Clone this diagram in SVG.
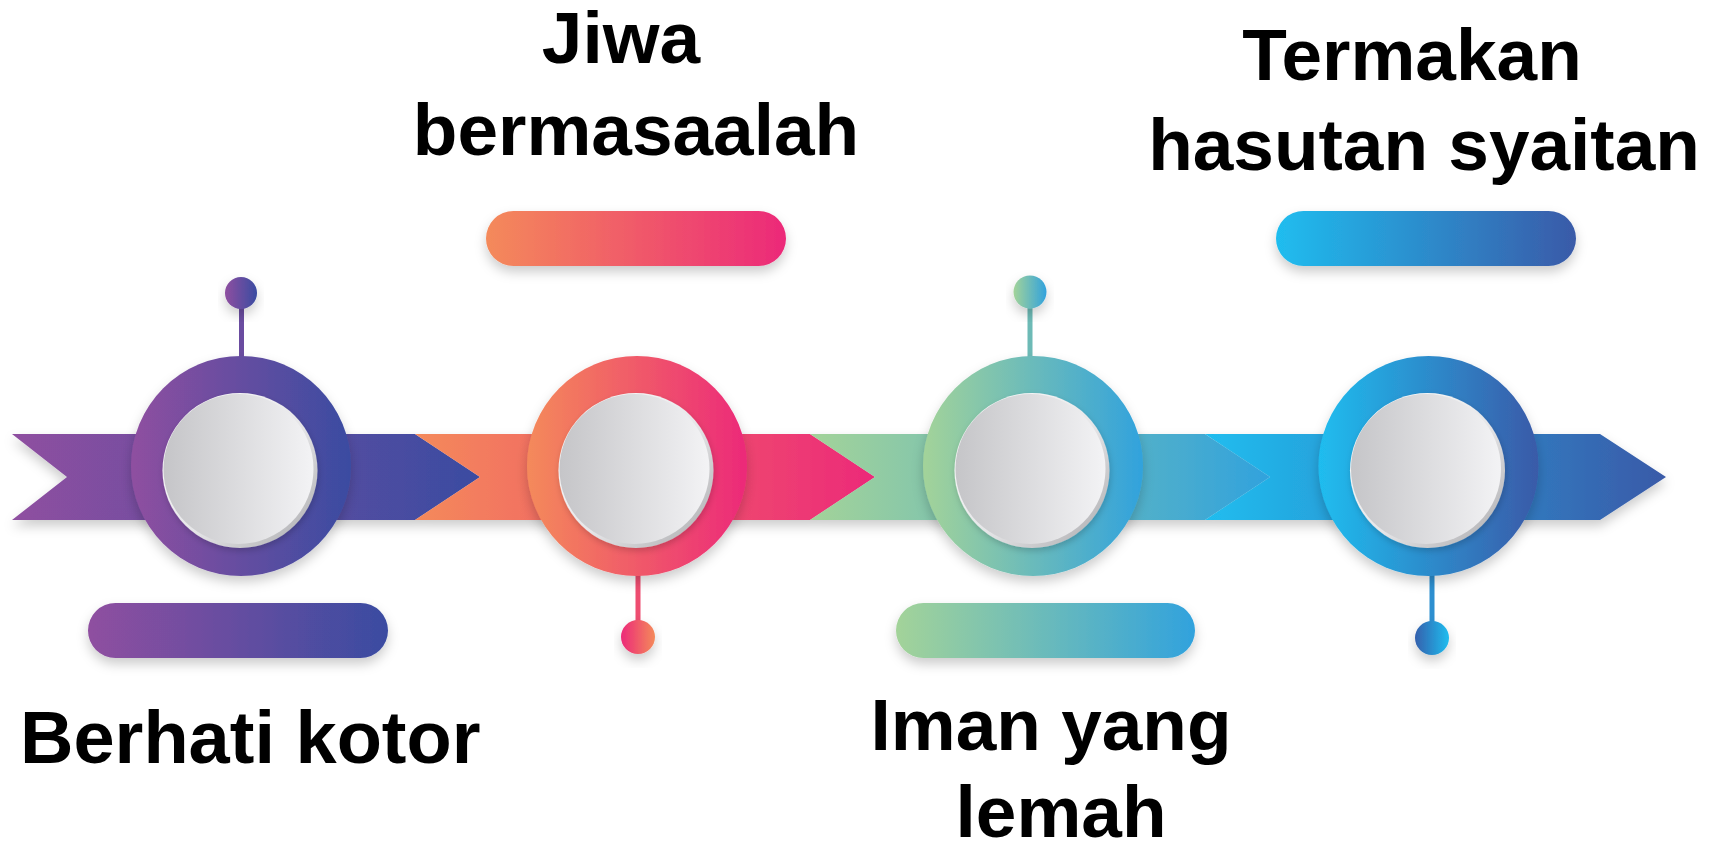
<svg xmlns="http://www.w3.org/2000/svg" width="1725" height="843" viewBox="0 0 1725 843">
  <style>
    .lbl { font-family: "Liberation Sans", Arial, sans-serif; font-weight: bold; font-size: 73px; fill: #000; }
    .sh { filter: url(#sh); }
  </style>
  <defs>
    <filter id="sh" x="-20%" y="-30%" width="140%" height="170%">
      <feDropShadow dx="0" dy="6" stdDeviation="6" flood-color="#000" flood-opacity="0.2"/>
    </filter>
    <filter id="shs" x="-20%" y="-20%" width="140%" height="140%">
      <feDropShadow dx="1" dy="3" stdDeviation="3" flood-color="#000" flood-opacity="0.18"/>
    </filter>
    <linearGradient id="g1"><stop offset="0" stop-color="#8f4fa0"/><stop offset="1" stop-color="#3a4ca1"/></linearGradient>
    <linearGradient id="g2"><stop offset="0" stop-color="#f48a5a"/><stop offset="1" stop-color="#ec2979"/></linearGradient>
    <linearGradient id="g2r"><stop offset="0" stop-color="#ec2979"/><stop offset="1" stop-color="#f48a5a"/></linearGradient>
    <linearGradient id="g3"><stop offset="0" stop-color="#a3d399"/><stop offset="1" stop-color="#31a2dd"/></linearGradient>
    <linearGradient id="g4"><stop offset="0" stop-color="#1fbdef"/><stop offset="1" stop-color="#3a5aa8"/></linearGradient>
    <linearGradient id="g4r"><stop offset="0" stop-color="#3460ad"/><stop offset="1" stop-color="#1fbdef"/></linearGradient>
    <linearGradient id="rim" x1="0" y1="0" x2="1" y2="1"><stop offset="0" stop-color="#ffffff"/><stop offset="0.55" stop-color="#e6e6e8"/><stop offset="1" stop-color="#a8a8ab"/></linearGradient>
    <linearGradient id="face"><stop offset="0" stop-color="#c5c5c8"/><stop offset="1" stop-color="#f3f3f5"/></linearGradient>
  </defs>
  <rect width="1725" height="843" fill="#ffffff"/>

  <g id="connectors" class="sh">
    <polygon points="12,434 415,434 480,477 415,520 12,520 67,477" fill="url(#g1)"/>
    <polygon points="415,434 810,434 875,477 810,520 415,520 480,477" fill="url(#g2)"/>
    <polygon points="810,434 1205,434 1270,477 1205,520 810,520 875,477" fill="url(#g3)"/>
    <polygon points="1205,434 1600,434 1666,477 1600,520 1205,520 1270,477" fill="url(#g4)"/>
  </g>

  <g id="node-1">
    <rect x="239" y="305" width="5" height="54" fill="#6a4ca0"/>
    <circle cx="241" cy="293" r="16" fill="url(#g1)" class="sh"/>
    <circle cx="241" cy="466" r="110" fill="url(#g1)" class="sh"/>
    <circle cx="240" cy="470.5" r="77.5" fill="url(#rim)" filter="url(#shs)"/>
    <circle cx="238.5" cy="469" r="75" fill="url(#face)"/>
    <rect x="88" y="603" width="300" height="55" rx="27.5" fill="url(#g1)" class="sh"/>
    <text class="lbl" x="20" y="763" style="font-size:74px">Berhati kotor</text>
  </g>

  <g id="node-2">
    <rect x="635.5" y="572" width="5" height="52" fill="#ee4d70"/>
    <circle cx="638" cy="637" r="17" fill="url(#g2r)" class="sh"/>
    <circle cx="637" cy="466" r="110" fill="url(#g2)" class="sh"/>
    <circle cx="636" cy="470.5" r="77.5" fill="url(#rim)" filter="url(#shs)"/>
    <circle cx="634.5" cy="469" r="75" fill="url(#face)"/>
    <rect x="486" y="211" width="300" height="55" rx="27.5" fill="url(#g2)" class="sh"/>
    <text class="lbl" x="621" y="63" text-anchor="middle">Jiwa</text>
    <text class="lbl" x="636" y="155" text-anchor="middle">bermasaalah</text>
  </g>

  <g id="node-3">
    <rect x="1027.5" y="305" width="5" height="54" fill="#6dbab6"/>
    <circle cx="1030" cy="292" r="16.5" fill="url(#g3)" class="sh"/>
    <circle cx="1033" cy="466" r="110" fill="url(#g3)" class="sh"/>
    <circle cx="1032" cy="470.5" r="77.5" fill="url(#rim)" filter="url(#shs)"/>
    <circle cx="1030.5" cy="469" r="75" fill="url(#face)"/>
    <rect x="896" y="603" width="299" height="55" rx="27.5" fill="url(#g3)" class="sh"/>
    <text class="lbl" x="1051" y="750" text-anchor="middle">Iman yang</text>
    <text class="lbl" x="1061" y="837" text-anchor="middle">lemah</text>
  </g>

  <g id="node-4">
    <rect x="1429.5" y="572" width="5" height="52" fill="#2d8fd0"/>
    <circle cx="1432" cy="638" r="17" fill="url(#g4r)" class="sh"/>
    <circle cx="1428.5" cy="466" r="110" fill="url(#g4)" class="sh"/>
    <circle cx="1427.5" cy="470.5" r="77.5" fill="url(#rim)" filter="url(#shs)"/>
    <circle cx="1426" cy="469" r="75" fill="url(#face)"/>
    <rect x="1276" y="211" width="300" height="55" rx="27.5" fill="url(#g4)" class="sh"/>
    <text class="lbl" x="1412" y="80" text-anchor="middle">Termakan</text>
    <text class="lbl" x="1424" y="170" text-anchor="middle">hasutan syaitan</text>
  </g>
</svg>
